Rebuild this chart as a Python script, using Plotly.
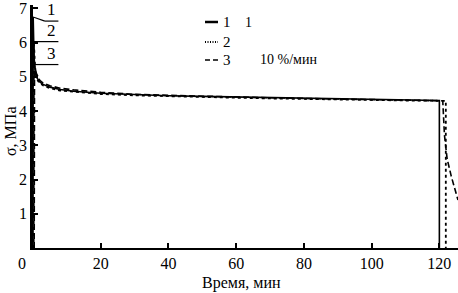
import plotly.graph_objects as go

# ---- data ----
t1 = [0, 0.05, 0.3, 0.6, 1, 1.5, 2, 3, 5, 8, 12, 20, 30, 40, 50, 60, 70, 80, 90, 100, 110, 119.8, 120.0, 120.0]
s1 = [0, 6.75, 5.6, 5.2, 5.0, 4.92, 4.85, 4.78, 4.70, 4.63, 4.58, 4.52, 4.48, 4.45, 4.43, 4.41, 4.39, 4.37, 4.36, 4.35, 4.33, 4.31, 4.31, 0]

t2 = [0.2, 0.25, 0.6, 1, 1.5, 2, 3, 5, 8, 12, 20, 30, 40, 50, 60, 70, 80, 90, 100, 110, 121.5, 121.9, 121.9]
s2 = [0, 6.05, 5.3, 5.0, 4.88, 4.82, 4.75, 4.67, 4.60, 4.56, 4.50, 4.46, 4.43, 4.41, 4.39, 4.37, 4.35, 4.34, 4.33, 4.31, 4.30, 4.30, 0]

t3 = [0.35, 0.45, 1, 1.5, 2, 3, 5, 8, 12, 20, 30, 40, 50, 60, 70, 80, 90, 100, 110, 121.0, 121.5, 122.3, 123.5, 125.5]
s3 = [0, 5.35, 5.1, 4.97, 4.90, 4.82, 4.74, 4.67, 4.62, 4.55, 4.49, 4.46, 4.43, 4.41, 4.39, 4.37, 4.36, 4.34, 4.32, 4.30, 3.3, 2.6, 2.1, 1.4]

peak_labels = ["1", "2", "3"]
peak_values = [6.75, 6.03, 5.36]
legend_labels = ["1", "2", "3"]
legend_rates = ["1", "", "10 %/мин"]
x_ticks = [20, 40, 60, 80, 100, 120]
y_ticks = [1, 2, 3, 4, 5, 6, 7]

FONT = "Liberation Serif"
W, H = 458, 293
L, R, T, B = 33, 0, 5, 45
PW, PH = W - L - R, H - T - B


def px(x):
    return (x - L) / PW


def py(y):
    return 1 - (y - T) / PH


fig = go.Figure()
styles = [dict(color="black", width=1.6, dash="solid"),
          dict(color="black", width=1.8, dash="dot"),
          dict(color="black", width=1.6, dash="6px,3px")]
for t, s, st in zip([t1, t2, t3], [s1, s2, s3], styles):
    fig.add_trace(go.Scatter(x=t, y=s, mode="lines", line=st, showlegend=False, hoverinfo="skip"))

shapes = []
annotations = []

# peak label lines
for i, (lab, v) in enumerate(zip(peak_labels, peak_values)):
    if i == 0:
        shapes.append(dict(type="line", xref="x", yref="y", x0=0, y0=v, x1=3.5, y1=v - 0.12,
                           line=dict(color="black", width=1.2)))
        shapes.append(dict(type="line", xref="x", yref="y", x0=3.5, y0=v - 0.12, x1=7.5, y1=v - 0.12,
                           line=dict(color="black", width=1.2)))
        ly = v - 0.12
    else:
        shapes.append(dict(type="line", xref="x", yref="y", x0=0, y0=v, x1=7.5, y1=v,
                           line=dict(color="black", width=1.2)))
        ly = v
    annotations.append(dict(x=5.5, y=ly, xref="x", yref="y", text=lab, showarrow=False,
                            xanchor="center", yanchor="bottom",
                            font=dict(family=FONT, size=17, color="black")))

# manual legend
rows_y = [22, 42, 60]
dashes = ["solid", "1px,1.5px", "5px,3px"]
widths = [2.5, 1.8, 1.6]
for yy, d, w, lab, rate in zip(rows_y, dashes, widths, legend_labels, legend_rates):
    shapes.append(dict(type="line", xref="paper", yref="paper", x0=px(205), x1=px(218),
                       y0=py(yy), y1=py(yy), line=dict(color="black", width=w, dash=d)))
    annotations.append(dict(x=px(221), y=py(yy), xref="paper", yref="paper", text=lab,
                            showarrow=False, xanchor="left", yanchor="middle",
                            font=dict(family=FONT, size=15, color="black")))
    if rate:
        annotations.append(dict(x=px(243 if rate == "1" else 258), y=py(yy), xref="paper", yref="paper",
                                text=rate, showarrow=False, xanchor="left", yanchor="middle",
                                font=dict(family=FONT, size=14, color="black")))

# "0" x tick label, axis titles
annotations.append(dict(x=px(22), y=py(263), xref="paper", yref="paper", text="0", showarrow=False,
                        xanchor="center", yanchor="middle",
                        font=dict(family=FONT, size=16, color="black")))
annotations.append(dict(x=px(10), y=py(131), xref="paper", yref="paper", text="σ, МПа", showarrow=False,
                        textangle=-90, xanchor="center", yanchor="middle",
                        font=dict(family=FONT, size=16, color="black")))
annotations.append(dict(x=px(241), y=py(283), xref="paper", yref="paper", text="Время, мин", showarrow=False,
                        xanchor="center", yanchor="middle",
                        font=dict(family=FONT, size=16, color="black")))

fig.update_layout(
    width=W, height=H,
    margin=dict(l=L, r=R, t=T, b=B, autoexpand=False),
    paper_bgcolor="white", plot_bgcolor="white",
    font=dict(family=FONT, size=16, color="black"),
    shapes=shapes, annotations=annotations,
    xaxis=dict(range=[0, 125.5], tickvals=x_ticks, ticks="inside", ticklen=5, tickwidth=1.5,
               tickcolor="black", showline=True, linecolor="black", linewidth=2,
               showgrid=False, zeroline=False, automargin=False,
               tickfont=dict(family=FONT, size=16)),
    yaxis=dict(range=[0, 7.1], tickvals=y_ticks, ticks="inside", ticklen=5, tickwidth=1.5,
               tickcolor="black", showline=True, linecolor="black", linewidth=2.5,
               showgrid=False, zeroline=False, automargin=False,
               tickfont=dict(family=FONT, size=16)),
)

fig.write_html("out.html", config={"displayModeBar": False},
               post_script="document.body.style.margin='0';document.body.style.overflow='hidden';")
